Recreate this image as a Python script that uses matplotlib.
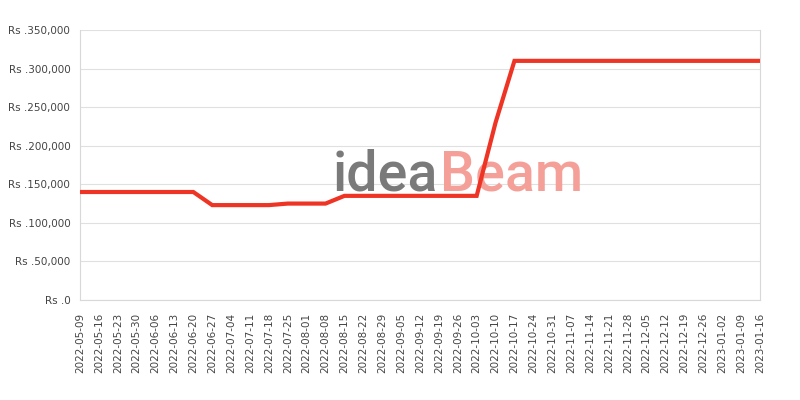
import matplotlib
matplotlib.use('Agg')
import matplotlib.pyplot as plt

# weekly dates and price (Rs)
dates = ['2022-05-09', '2022-05-16', '2022-05-23', '2022-05-30', '2022-06-06',
         '2022-06-13', '2022-06-20', '2022-06-27', '2022-07-04', '2022-07-11',
         '2022-07-18', '2022-07-25', '2022-08-01', '2022-08-08', '2022-08-15',
         '2022-08-22', '2022-08-29', '2022-09-05', '2022-09-12', '2022-09-19',
         '2022-09-26', '2022-10-03', '2022-10-10', '2022-10-17', '2022-10-24',
         '2022-10-31', '2022-11-07', '2022-11-14', '2022-11-21', '2022-11-28',
         '2022-12-05', '2022-12-12', '2022-12-19', '2022-12-26', '2023-01-02',
         '2023-01-09', '2023-01-16']
prices = [139999, 139999, 139999, 139999, 139999, 139999, 139999,
          122999, 122999, 122999, 122999,
          124999, 124999, 124999,
          134999, 134999, 134999, 134999, 134999, 134999, 134999, 134999,
          229999,
          309999, 309999, 309999, 309999, 309999, 309999, 309999,
          309999, 309999, 309999, 309999, 309999, 309999, 309999]
yticks = [0, 50000, 100000, 150000, 200000, 250000, 300000, 350000]

fig = plt.figure(figsize=(8, 4), dpi=100)
ax = fig.add_axes([0.1, 0.25, 0.85, 0.675])

x = list(range(len(dates)))
ax.plot(x, prices, color='#ee3424', linewidth=3, zorder=3, solid_joinstyle='miter')

ax.set_xlim(0, len(dates) - 1)
ax.set_ylim(0, 350000)
ax.set_xticks(x)
ax.set_xticklabels(dates, rotation=90)
ax.set_yticks(yticks)
ax.set_yticklabels(['Rs .' + format(v, ',') for v in yticks])
ax.tick_params(axis='both', length=0, labelsize=7.5, labelcolor='#444444')
ax.tick_params(axis='y', pad=7)
ax.tick_params(axis='x', pad=9)
ax.grid(axis='y', color='#e0e0e0', linewidth=0.8)
ax.set_axisbelow(True)
for side in ['left', 'bottom', 'right']:
    ax.spines[side].set_color('#d8d8d8')
ax.spines['top'].set_visible(False)

# watermark
ax.text(0.527, 0.405, 'idea', transform=ax.transAxes, ha='right', va='baseline',
        fontsize=40, color='#7a7a7a', family='Roboto', weight='medium', zorder=1)
ax.text(0.529, 0.405, 'Beam', transform=ax.transAxes, ha='left', va='baseline',
        fontsize=40, color='#f4a098', family='Roboto', weight='medium', zorder=1)

fig.savefig('out.png', dpi=100)
